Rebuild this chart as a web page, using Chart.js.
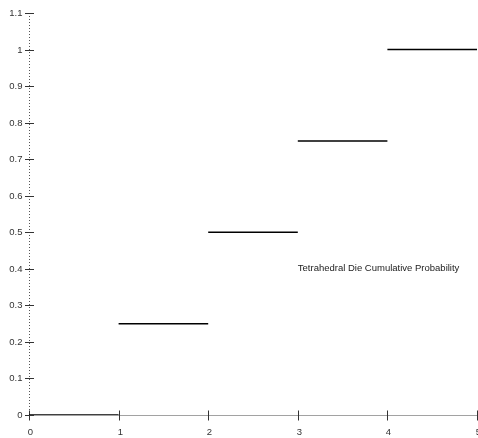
<!DOCTYPE html>
<html>
<head>
<meta charset="utf-8">
<script src="https://cdn.jsdelivr.net/npm/chart.js@4.4.0/dist/chart.umd.min.js"></script>
<style>
html,body{margin:0;padding:0;background:#fff;}
#c{display:block;}
</style>
</head>
<body>
<canvas id="c" width="478" height="438"></canvas>
<script>
// Data
const stepStarts = [0, 1, 2, 3, 4];
const stepEnds   = [1, 2, 3, 4, 5];
const cumProb    = [0, 0.25, 0.5, 0.75, 1];
const xTicks = [0, 1, 2, 3, 4, 5];
const yTicks = [0, 0.1, 0.2, 0.3, 0.4, 0.5, 0.6, 0.7, 0.8, 0.9, 1, 1.1];
const yTickLabels = ['0','0.1','0.2','0.3','0.4','0.5','0.6','0.7','0.8','0.9','1','1.1'];
const annotationText = 'Tetrahedral Die Cumulative Probability';
const annotationPos = {x: 3, y: 0.4};

const FONT = '9.5px "Liberation Sans", Arial, sans-serif';

const datasets = stepStarts.map((s, i) => ({
  data: [{x: s, y: cumProb[i]}, {x: stepEnds[i], y: cumProb[i]}],
  borderColor: '#000',
  borderWidth: 1.5,
  pointRadius: 0,
  showLine: true,
  fill: false
}));

const axesPlugin = {
  id: 'customAxes',
  beforeDatasetsDraw(chart) {
    const ctx = chart.ctx;
    const xs = chart.scales.x, ys = chart.scales.y;
    const x0 = Math.round(xs.getPixelForValue(0)) + 0.5;
    const y0 = Math.round(ys.getPixelForValue(0)) + 0.5;
    ctx.save();
    // y axis dotted
    ctx.strokeStyle = '#555';
    ctx.lineWidth = 1;
    ctx.setLineDash([1, 2]);
    ctx.beginPath();
    ctx.moveTo(x0, ys.getPixelForValue(1.1));
    ctx.lineTo(x0, y0);
    ctx.stroke();
    // x axis
    ctx.strokeStyle = '#444';
    ctx.setLineDash([1, 1]);
    ctx.beginPath();
    ctx.moveTo(x0, y0);
    ctx.lineTo(xs.getPixelForValue(5), y0);
    ctx.stroke();
    ctx.setLineDash([]);
    // y ticks
    ctx.strokeStyle = '#333';
    ctx.fillStyle = '#333';
    ctx.font = FONT;
    ctx.textAlign = 'right';
    ctx.textBaseline = 'middle';
    yTicks.forEach((v, i) => {
      const py = Math.round(ys.getPixelForValue(v)) + 0.5;
      ctx.beginPath();
      ctx.moveTo(x0 - 4.5, py);
      ctx.lineTo(x0 + 4.5, py);
      ctx.stroke();
      ctx.fillText(yTickLabels[i], x0 - 7, py);
    });
    // x ticks
    ctx.textAlign = 'center';
    ctx.textBaseline = 'top';
    xTicks.forEach(v => {
      const px = Math.round(xs.getPixelForValue(v)) + 0.5;
      ctx.beginPath();
      ctx.moveTo(px, y0 - 5);
      ctx.lineTo(px, y0 + 5);
      ctx.stroke();
      ctx.fillText(String(v), px + 1, y0 + 12);
    });
    // annotation
    ctx.textAlign = 'left';
    ctx.textBaseline = 'middle';
    ctx.fillStyle = '#222';
    ctx.fillText(annotationText, xs.getPixelForValue(annotationPos.x), ys.getPixelForValue(annotationPos.y));
    ctx.restore();
  }
};

new Chart(document.getElementById('c'), {
  type: 'scatter',
  data: { datasets },
  options: {
    responsive: false,
    animation: false,
    events: [],
    layout: { padding: { left: 29, right: 1, top: 13, bottom: 23 } },
    plugins: { legend: { display: false }, tooltip: { enabled: false } },
    scales: {
      x: { type: 'linear', min: 0, max: 5, display: false },
      y: { type: 'linear', min: 0, max: 1.1, display: false }
    }
  },
  plugins: [axesPlugin]
});
</script>
</body>
</html>
